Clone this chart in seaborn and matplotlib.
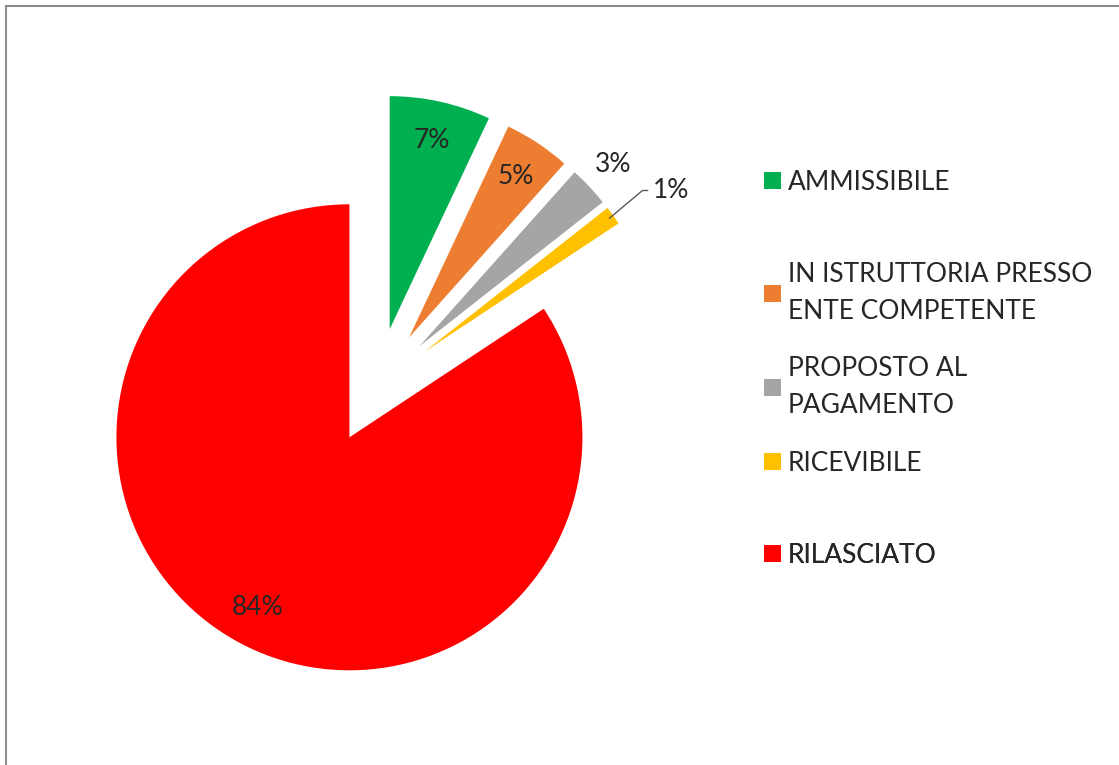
import numpy as np
import matplotlib
matplotlib.use("Agg")
import matplotlib.pyplot as plt
from matplotlib.patches import Rectangle
import seaborn as sns

categories = ['AMMISSIBILE', 'IN ISTRUTTORIA PRESSO\nENTE COMPETENTE',
              'PROPOSTO AL\nPAGAMENTO', 'RICEVIBILE', 'RILASCIATO']
values = [7.0, 4.6, 2.8, 1.3, 84.3]
colors = ['#00B050', '#ED7D31', '#A5A5A5', '#FFC000', '#FF0000']

sns.set_theme(style='white')
plt.rcParams['font.family'] = ['Lato', 'DejaVu Sans']
txt_color = '#262626'
fs = 19

W, H = 1119, 765
fig = plt.figure(figsize=(W / 100, H / 100), dpi=100)
ax = fig.add_axes([0, 0, 1, 1])

pal = sns.color_palette(colors)
explode = [0.25] * len(values)
wedges, texts, autotexts = ax.pie(values, colors=pal, startangle=90, counterclock=False,
                                  explode=explode, autopct='%1.0f%%', pctdistance=0.83,
                                  wedgeprops=dict(linewidth=0),
                                  textprops=dict(fontsize=fs, color=txt_color))

# pie centre at (377, 386) px, radius 233 px
cx, cy, R = 377, 386, 233
ax.set_xlim(-cx / R, (W - cx) / R)
ax.set_ylim(-(H - cy) / R, cy / R)
ax.set_aspect('auto')
ax.axis('off')

# 3% outside its slice
w = wedges[2]
mid = np.deg2rad((w.theta1 + w.theta2) / 2)
c = np.array(w.center)
autotexts[2].set_position(c + 1.14 * np.array([np.cos(mid), np.sin(mid)]))

# 1% with leader line
w = wedges[3]
mid = np.deg2rad((w.theta1 + w.theta2) / 2)
c = np.array(w.center)
edge = c + 0.98 * np.array([np.cos(mid), np.sin(mid)])
lbl = autotexts[3].get_text()
autotexts[3].set_visible(False)
ax.annotate(lbl, xy=edge, xytext=(31, 20), textcoords='offset points',
            ha='left', va='center', fontsize=fs, color=txt_color,
            arrowprops=dict(arrowstyle='-', color='#595959', lw=1,
                            connectionstyle='angle,angleA=0,angleB=40',
                            shrinkA=1, shrinkB=0))

# legend entries, spaced like the original (top of each entry in px)
entry_tops = [170, 262, 356, 451, 543]
for wdg, lab, top in zip(wedges, categories, entry_tops):
    leg = ax.legend([wdg], [lab], loc='upper left',
                    bbox_to_anchor=(764 / W, 1 - top / H), bbox_transform=fig.transFigure,
                    frameon=False, fontsize=fs, handlelength=0.64, handleheight=0.64,
                    handletextpad=0.27, borderpad=0, borderaxespad=0)
    for t in leg.get_texts():
        t.set_color(txt_color)
        t.set_linespacing(1.6)
    ax.add_artist(leg)

fig.patches.append(Rectangle((6 / W, -0.1), 1.2, 1 - 6 / H + 0.1, transform=fig.transFigure,
                             fill=False, edgecolor='#8C8C8C', linewidth=1.5))

fig.savefig('out.png', dpi=100)
